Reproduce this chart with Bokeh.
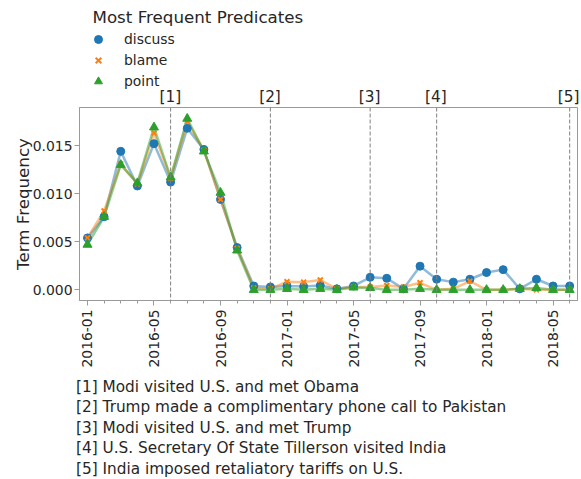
import math
from bokeh.plotting import figure
from bokeh.layouts import column
from bokeh.models import (Range1d, FixedTicker, NumeralTickFormatter, Label, Legend,
                          LegendItem, Span, ColumnDataSource, Div)
from bokeh.embed import file_html
from bokeh.resources import INLINE

months = ["2016-01", "2016-02", "2016-03", "2016-04", "2016-05", "2016-06",
          "2016-07", "2016-08", "2016-09", "2016-10", "2016-11", "2016-12",
          "2017-01", "2017-02", "2017-03", "2017-04", "2017-05", "2017-06",
          "2017-07", "2017-08", "2017-09", "2017-10", "2017-11", "2017-12",
          "2018-01", "2018-02", "2018-03", "2018-04", "2018-05", "2018-06"]

discuss = [0.0054, 0.0076, 0.0144, 0.0108, 0.0152, 0.0112, 0.0168, 0.0146, 0.0094, 0.0044,
           0.0004, 0.0003, 0.0004, 0.00035, 0.00045, 0.0001, 0.0004, 0.0013, 0.0012, 0.0001,
           0.00246, 0.0011, 0.0008, 0.0011, 0.0018, 0.0021, 0.0001, 0.0011, 0.0004, 0.0004]
blame = [0.0054, 0.0082, 0.0131, 0.0110, 0.0163, 0.0116, 0.0175, 0.0145, 0.0094, 0.0043,
         0.0002, 0.0001, 0.00085, 0.0008, 0.00102, 0.0001, 0.0003, 0.0003, 0.00045, 0.0003,
         0.00073, 0.0, 0.0001, 0.0009, 0.0, 0.0, 0.0001, 0.0, 0.0, 0.0]
point = [0.0047, 0.0076, 0.0130, 0.0111, 0.0169, 0.0117, 0.0178, 0.0144, 0.0101, 0.0041,
         0.0, 0.0, 0.0001, 0.0, 0.0001, 0.0, 0.00025, 0.0002, 0.0, 0.0,
         0.0001, 0.0, 0.0, 0.0, 0.0, 0.0, 0.0001, 0.0002, 0.0, 0.0]

series_names = ["discuss", "blame", "point"]
series_colors = ["#1f77b4", "#ff7f0e", "#2ca02c"]
series_markers = ["circle", "x", "triangle"]

event_tags = ["[1]", "[2]", "[3]", "[4]", "[5]"]
event_months = ["2016-06", "2016-12", "2017-06", "2017-10", "2018-06"]
event_texts = ["[1] Modi visited U.S. and met Obama",
               "[2] Trump made a complimentary phone call to Pakistan",
               "[3] Modi visited U.S. and met Trump",
               "[4] U.S. Secretary Of State Tillerson visited India",
               "[5] India imposed retaliatory tariffs on U.S."]

y_ticks = [0.0, 0.005, 0.010, 0.015]
x_major = [0, 4, 8, 12, 16, 20, 24, 28]

FONT = "DejaVu Sans"
TXT = "#262626"
GREY = "#9a9a9a"

X0, X1 = -0.48, 29.47
FRAME_L, FRAME_R_MAIN = 79, 577
MAIN_W = 578
HEAD_W = 581
HEAD_H = 106

xs = list(range(len(months)))

# ---------------- main plot ----------------
p = figure(width=MAIN_W, height=271, output_backend="svg", toolbar_location=None,
           x_range=Range1d(X0, X1), y_range=Range1d(-0.00111, 0.01896),
           min_border_left=FRAME_L, min_border_right=MAIN_W - FRAME_R_MAIN,
           min_border_top=1, min_border_bottom=77)
p.background_fill_color = "white"
p.border_fill_color = "white"
p.outline_line_color = GREY
p.outline_line_width = 1
p.grid.visible = False

p.xaxis.ticker = FixedTicker(ticks=x_major, minor_ticks=xs)
p.xaxis.major_label_overrides = {i: months[i] for i in x_major}
p.xaxis.major_label_orientation = math.pi / 2
p.yaxis.ticker = FixedTicker(ticks=y_ticks)
p.yaxis.formatter = NumeralTickFormatter(format="0.000")
for ax in (p.xaxis[0], p.yaxis[0]):
    ax.axis_line_color = GREY
    ax.major_tick_line_color = GREY
    ax.minor_tick_line_color = GREY
    ax.major_tick_in = 0
    ax.major_tick_out = 5
    ax.minor_tick_in = 0
    ax.major_label_text_font = FONT
    ax.major_label_text_font_size = "13.9px"
    ax.major_label_text_color = TXT
    ax.major_label_standoff = 2
p.xaxis.minor_tick_out = 3
p.xaxis.major_label_standoff = 4
p.yaxis.minor_tick_line_color = None
p.yaxis.axis_label = "Term Frequency"
p.yaxis.axis_label_text_font = FONT
p.yaxis.axis_label_text_font_size = "16.7px"
p.yaxis.axis_label_text_font_style = "normal"
p.yaxis.axis_label_text_color = TXT
p.yaxis.axis_label_standoff = -3

for m in event_months:
    p.add_layout(Span(location=months.index(m), dimension="height",
                      line_color="#808080", line_dash="4 2", line_width=1))

for vals, col in zip([discuss, blame, point], series_colors):
    src = ColumnDataSource(dict(x=xs, y=vals))
    p.line("x", "y", source=src, line_color=col, line_alpha=0.5, line_width=2.5)

def add_markers(fig, src, col, mk):
    if mk == "x":
        return fig.scatter("x", "y", source=src, marker="x", size=7, line_color=col, line_width=2)
    if mk == "triangle":
        return fig.scatter("x", "y", source=src, marker="triangle", size=9,
                           fill_color=col, line_color=col)
    return fig.scatter("x", "y", source=src, marker="circle", size=8,
                       fill_color=col, line_color=col)

for vals, col, mk in zip([discuss, blame, point], series_colors, series_markers):
    add_markers(p, ColumnDataSource(dict(x=xs, y=vals)), col, mk)

# ---------------- header: legend + event tags ----------------
head_span = (X1 - X0) * (HEAD_W - FRAME_L) / (FRAME_R_MAIN - FRAME_L)
h = figure(width=HEAD_W, height=HEAD_H, output_backend="svg", toolbar_location=None,
           x_range=Range1d(X0, X0 + head_span), y_range=Range1d(0, 1),
           x_axis_type=None, y_axis_type=None,
           min_border_left=FRAME_L, min_border_right=0, min_border_top=0, min_border_bottom=0)
h.outline_line_color = None
h.background_fill_color = "white"
h.border_fill_color = "white"

# legend-only renderers: one sample each, kept outside the header's visible y range
legend_items = []
for name, col, mk in zip(series_names, series_colors, series_markers):
    r = add_markers(h, ColumnDataSource(dict(x=[0], y=[-10])), col, mk)
    legend_items.append(LegendItem(label=name, renderers=[r]))

legend = Legend(items=legend_items, location=(88 - FRAME_L, HEAD_H - 91),
                orientation="vertical", padding=0, margin=0, spacing=1,
                glyph_width=20, glyph_height=20, label_height=20, label_standoff=16,
                border_line_color=None, background_fill_alpha=0,
                label_text_font=FONT, label_text_font_size="13.9px", label_text_color=TXT)
h.add_layout(legend, "center")

h.add_layout(Label(x=92 - FRAME_L, y=HEAD_H - 16, x_units="screen", y_units="screen",
                   text="Most Frequent Predicates", text_font=FONT, text_font_size="16.7px",
                   text_color=TXT, text_align="left", text_baseline="middle"))
for tag, m in zip(event_tags, event_months):
    h.add_layout(Label(x=months.index(m), y=0.5, x_units="data", y_units="screen",
                       text=tag, text_font=FONT, text_font_size="15.3px", text_color=TXT,
                       text_align="center", text_baseline="bottom"))

# ---------------- footnotes ----------------
lines_html = "<br>".join(t for t in event_texts)
div = Div(text=("<div style=\"padding-left:76px; font-family:'DejaVu Sans'; "
                "font-size:15.3px; line-height:20.4px; color:%s; white-space:nowrap;\">%s</div>")
          % (TXT, lines_html),
          width=HEAD_W, height=102, margin=0, styles={"overflow": "hidden"})

layout = column(h, p, div, spacing=0)
open("out.html", "w").write(file_html(layout, INLINE))
